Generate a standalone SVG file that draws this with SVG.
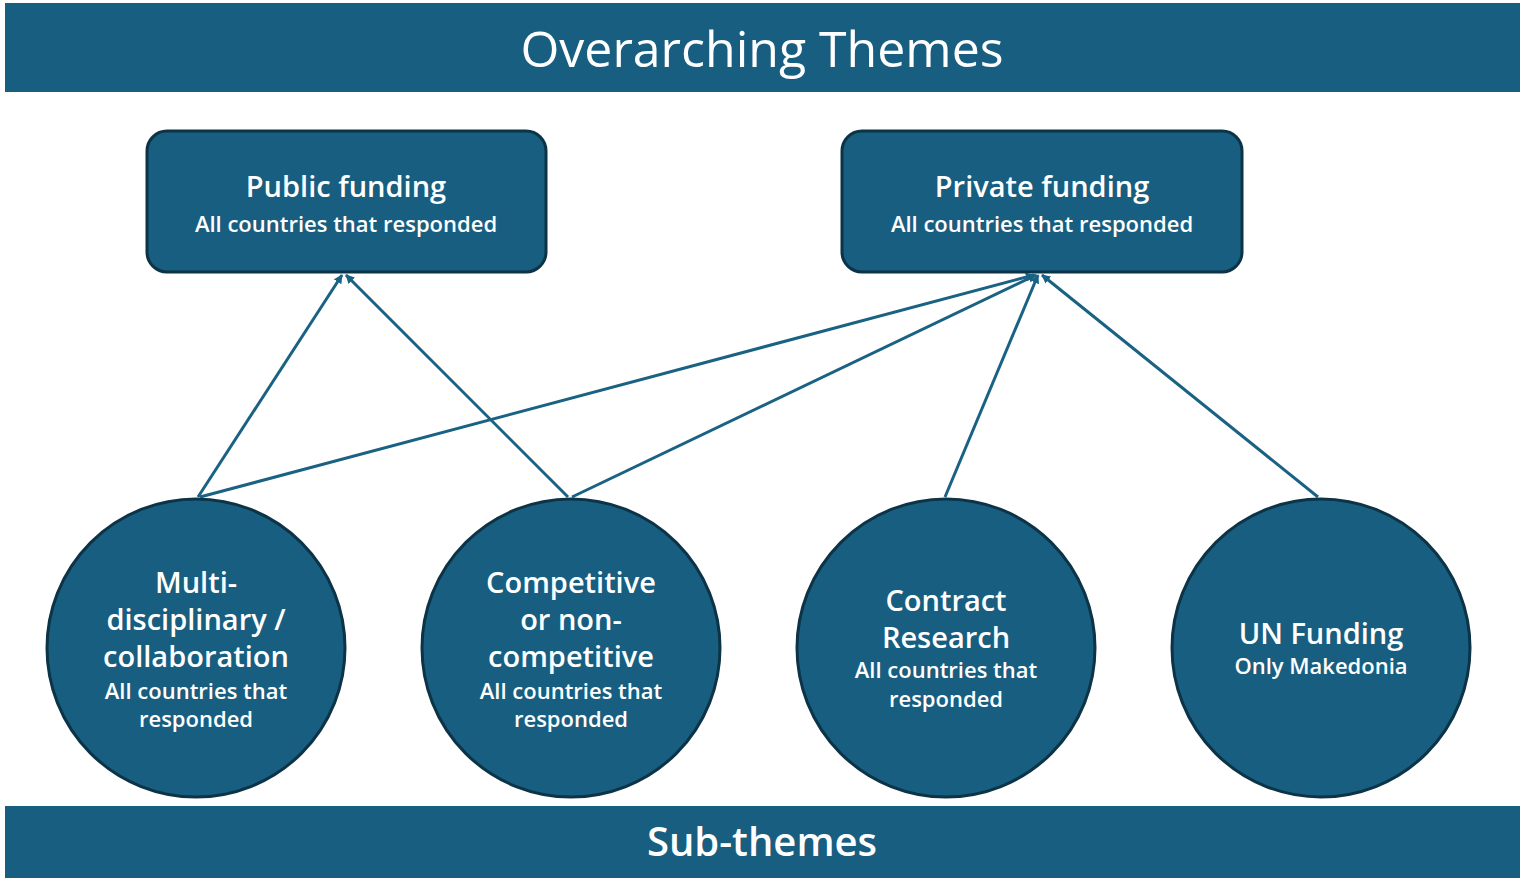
<svg xmlns="http://www.w3.org/2000/svg" width="1524" height="886" viewBox="0 0 1524 886">
<style>
.band{fill:#175e80}
.node{fill:#175e80;stroke:#0d3347;stroke-width:3}
.t{font-family:"Open Sans","Liberation Sans",sans-serif;fill:#fff;text-anchor:middle}
.h{font-size:50px}
.b{font-size:29px;font-weight:600}
.s{font-size:22px;font-weight:600}
.c{stroke:#1a6283;stroke-width:3;fill:none;marker-end:url(#a)}
</style>
<defs><marker id="a" viewBox="0 0 10 10" refX="9" refY="5" markerWidth="3" markerHeight="3" orient="auto"><path d="M0,0L10,5L0,10z" fill="#1a6283"/></marker></defs>
<rect width="1524" height="886" fill="#fff"/>
<g id="header"><rect class="band" x="5" y="3" width="1515" height="89"/><text class="t h" x="762" y="67">Overarching Themes</text></g>
<g id="footer"><rect class="band" x="5" y="806" width="1515" height="72"/><text class="t" x="762" y="856" font-size="40" font-weight="600">Sub-themes</text></g>
<g id="connectors">
<line class="c" x1="198" y1="497" x2="342" y2="275"/>
<line class="c" x1="568" y1="497" x2="346" y2="275"/>
<line class="c" x1="200" y1="497" x2="1034" y2="275"/>
<line class="c" x1="572" y1="497" x2="1036" y2="275"/>
<line class="c" x1="945" y1="497" x2="1038" y2="275"/>
<line class="c" x1="1318" y1="497" x2="1042" y2="275"/>
</g>
<g id="public"><rect class="node" x="147" y="131" width="399" height="141" rx="20"/><text class="t b" x="346" y="197">Public funding</text><text class="t s" x="346" y="232">All countries that responded</text></g>
<g id="private"><rect class="node" x="842" y="131" width="400" height="141" rx="20"/><text class="t b" x="1042" y="197">Private funding</text><text class="t s" x="1042" y="232">All countries that responded</text></g>
<g id="multi"><circle class="node" cx="196" cy="648" r="149"/><text class="t b" x="196" y="593">Multi-</text><text class="t b" x="196" y="630">disciplinary /</text><text class="t b" x="196" y="667">collaboration</text><text class="t s" x="196" y="699">All countries that</text><text class="t s" x="196" y="727">responded</text></g>
<g id="competitive"><circle class="node" cx="571" cy="648" r="149"/><text class="t b" x="571" y="593">Competitive</text><text class="t b" x="571" y="630">or non-</text><text class="t b" x="571" y="667">competitive</text><text class="t s" x="571" y="699">All countries that</text><text class="t s" x="571" y="727">responded</text></g>
<g id="contract"><circle class="node" cx="946" cy="648" r="149"/><text class="t b" x="946" y="611">Contract</text><text class="t b" x="946" y="648">Research</text><text class="t s" x="946" y="678">All countries that</text><text class="t s" x="946" y="707">responded</text></g>
<g id="un"><circle class="node" cx="1321" cy="648" r="149"/><text class="t b" x="1321" y="644">UN Funding</text><text class="t s" x="1321" y="674">Only Makedonia</text></g>
</svg>
